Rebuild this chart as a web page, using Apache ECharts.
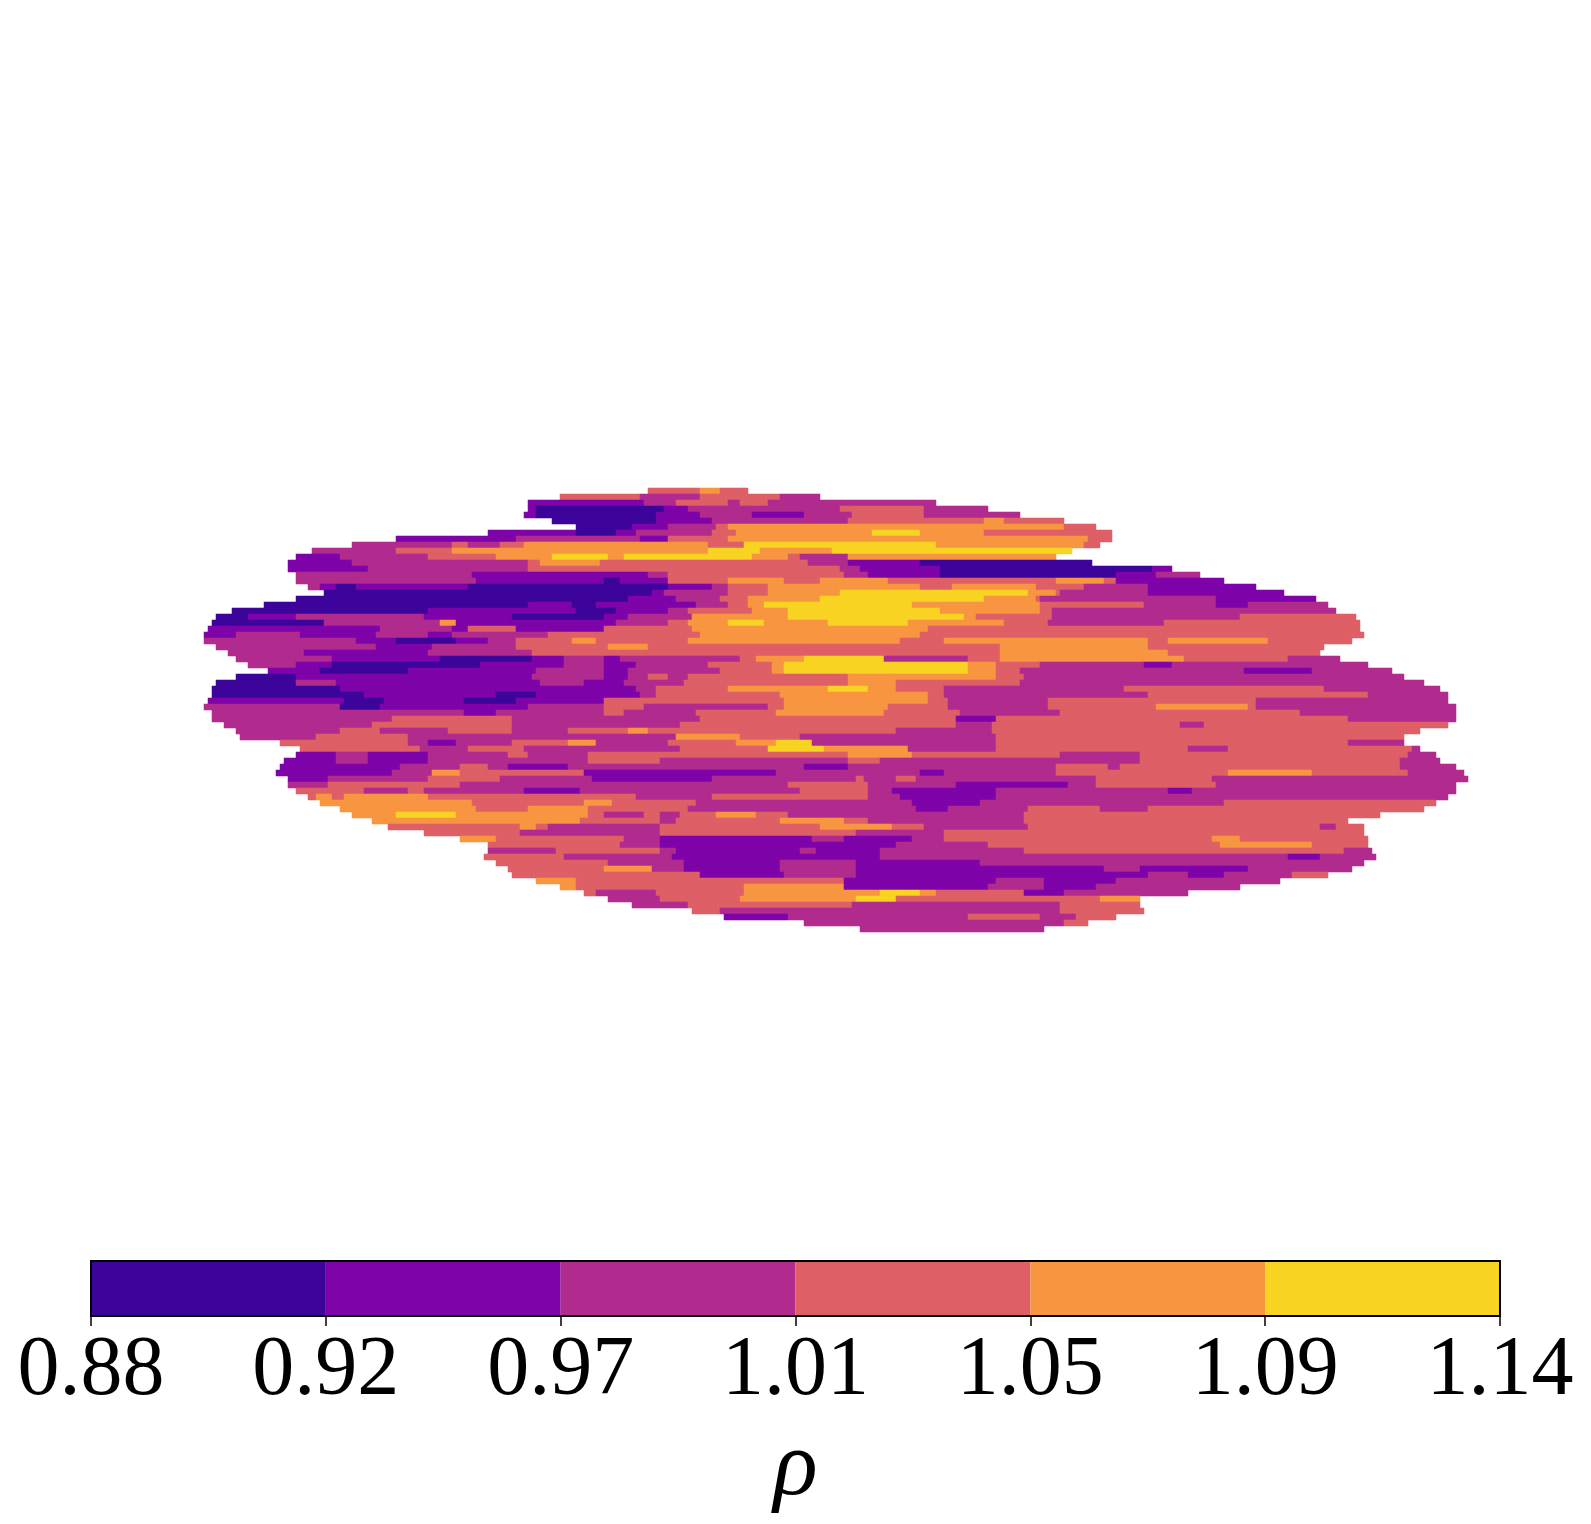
<!DOCTYPE html>
<html><head><meta charset="utf-8">
<style>html,body{margin:0;padding:0;background:#fff}#c{width:1591px;height:1524px}</style>
<script src="https://cdn.jsdelivr.net/npm/echarts@6/dist/echarts.min.js"></script>
</head><body><div id="c"></div>
<script>
const tickLabels = ['0.88','0.92','0.97','1.01','1.05','1.09','1.14'];
const levelEdges = [0.88,0.92,0.97,1.01,1.05,1.09,1.14];
const levelValues = [0.90,0.945,0.99,1.03,1.07,1.115];
const levelColors = ['#3c049b','#7e03a8','#b12b8f','#de5f65','#f89540','#f9d321'];
// each band: x-start level x-start level ... x-end, read row by row, top to bottom
const bands = [
"650 3 700 4 720 3 750",
"560 3 640 2 700 3 780 2 820",
"529 1 645 2 677 3 727 2 740 3 768 2 935",
"528 1 538 0 663 1 690 2 840 3 925 2 987",
"525 1 538 0 657 1 700 2 752 1 805 2 852 3 925 2 1020",
"552 0 655 1 713 2 850 3 985 4 1005 3 1065",
"578 0 632 1 670 2 715 3 728 4 1065 3 1095",
"488 1 578 0 617 1 635 2 712 3 735 4 873 5 920 4 983 3 1112",
"398 1 515 2 640 1 670 3 730 4 1088 3 1113",
"352 2 453 3 470 2 500 3 525 4 710 3 745 5 937 4 1085 3 1100",
"312 2 398 3 452 4 707 5 762 4 833 5 1072",
"295 1 340 2 430 3 495 4 553 5 607 4 623 5 753 4 790 3 800 2 850 4 1055",
"290 1 352 2 528 3 540 4 600 3 810 2 850 1 920 0 1093",
"288 1 370 2 528 3 840 2 860 1 940 0 1152 1 1173",
"298 2 472 1 647 2 670 3 843 2 870 1 940 0 1118 1 1155 2 1202",
"298 2 475 1 605 0 622 1 670 3 727 4 783 3 820 4 887 3 1055 4 1105 3 1117 1 1225",
"310 2 322 1 338 0 358 1 468 0 667 1 712 2 730 3 768 4 920 3 953 4 1037 3 1083 2 1147 1 1255",
"325 0 653 1 663 2 730 3 767 4 840 5 1030 4 1055 3 1062 2 1147 1 1285",
"298 0 630 1 677 2 720 3 750 4 820 5 985 4 1035 3 1040 2 1217 1 1315",
"265 0 528 1 573 0 597 1 697 2 730 3 750 4 763 5 913 4 1040 3 1143 2 1217 1 1247 2 1327",
"233 0 427 1 575 0 615 1 670 2 690 3 753 4 790 5 940 4 1040 3 1053 2 1337",
"215 0 248 1 295 2 425 1 512 0 605 1 630 2 692 4 790 5 963 4 975 3 1053 2 1240 3 1355",
"212 0 325 2 442 4 458 1 618 2 670 3 690 4 728 5 763 4 830 5 910 4 1003 3 1047 2 1165 3 1360",
"208 1 382 2 452 1 468 3 515 1 605 3 692 4 930 3 1359",
"205 1 238 2 302 1 378 2 428 1 452 2 548 3 700 4 920 3 1363",
"203 2 355 1 395 0 458 1 488 2 517 3 572 4 595 3 687 4 900 3 943 4 1150 3 1170 4 1270 3 1352",
"215 2 377 1 432 2 517 3 608 4 650 3 1000 4 1150 3 1323",
"228 2 305 1 428 2 532 3 625 3 1000 4 1167 3 1320",
"237 2 332 1 442 0 532 1 565 2 605 1 622 2 740 3 757 4 803 5 883 2 970 3 1000 4 1183 3 1290 2 1340",
"248 2 295 1 333 0 480 1 565 2 605 1 635 2 707 3 773 4 783 5 967 4 997 3 1040 2 1143 1 1173 2 1370",
"270 1 320 0 410 1 535 2 605 1 630 2 722 3 773 4 783 5 967 4 997 3 1020 2 1243 1 1312 2 1393",
"235 0 298 1 532 2 605 1 630 2 650 3 667 2 690 3 850 4 997 3 1023 2 1405",
"218 0 298 2 338 1 542 2 585 1 625 2 683 3 850 4 897 3 1020 2 1423",
"213 0 340 1 638 2 657 3 730 4 830 5 868 4 897 3 945 2 1125 3 1325 2 1442",
"211 0 365 1 497 0 538 1 640 2 657 3 780 4 930 3 945 2 1147 3 1367 2 1448",
"208 1 343 0 383 1 465 0 518 1 605 3 785 4 930 3 950 2 1050 3 1257 2 1450",
"205 2 342 0 382 1 530 2 605 3 643 2 770 3 783 4 887 3 950 2 1048 3 1157 4 1247 3 1257 2 1455",
"213 2 465 1 495 2 605 3 625 2 697 3 777 4 883 3 960 2 1060 3 1300 2 1457",
"212 2 393 3 513 2 700 3 957 1 998 3 1347 2 1457",
"225 2 372 3 513 2 680 3 957 2 992 3 1180 2 1203 3 1447",
"235 2 340 3 380 2 447 3 513 2 570 3 630 4 650 3 897 2 992 3 1422",
"240 2 317 3 410 2 677 4 740 3 800 2 997 3 1403",
"280 3 410 2 430 1 457 2 513 3 570 4 598 2 667 3 735 4 778 5 813 2 997 3 1350 2 1403",
"300 3 420 2 470 3 525 2 680 3 770 5 825 4 910 2 997 3 1188 2 1230 3 1412 2 1422",
"298 1 337 2 367 1 430 2 507 3 527 2 590 3 847 4 913 3 1060 2 1140 3 1407 2 1435",
"283 1 338 2 367 1 430 2 590 3 660 2 850 3 880 2 1140 3 1400 2 1442",
"280 1 400 2 460 3 487 2 510 1 567 2 803 1 850 2 1055 3 1110 2 1120 3 1400 2 1455",
"278 1 393 2 433 4 460 3 583 1 775 2 922 1 945 2 1055 3 1227 4 1313 3 1410 2 1463",
"287 1 330 2 427 3 500 2 593 1 713 2 857 3 865 2 897 3 915 2 1097 3 1213 2 1467",
"287 2 327 3 460 2 790 3 870 2 955 1 1070 2 1095 3 1217 2 1455",
"298 3 365 2 408 3 425 2 523 1 580 2 800 3 867 2 893 1 997 2 1167 1 1192 2 1455",
"308 3 317 4 333 3 345 4 427 3 637 2 713 3 867 2 900 1 997 2 1447",
"320 4 473 3 583 4 613 3 695 2 913 1 980 2 1223 3 1435",
"340 4 475 3 530 4 587 3 690 2 917 1 947 2 1027 3 1100 2 1150 3 1425",
"353 4 398 5 457 4 587 3 605 2 645 3 662 2 680 3 717 4 757 3 790 2 1023 3 1380",
"373 4 580 3 662 2 677 3 780 4 843 3 870 2 1023 3 1348",
"387 3 520 4 538 3 548 2 662 3 820 4 893 3 925 2 1030 3 1320 2 1337 3 1363",
"423 3 520 2 662 3 857 2 945 3 1365",
"460 4 497 3 623 2 660 1 813 2 843 1 913 2 945 3 1212 4 1240 3 1368",
"488 3 622 2 660 1 895 2 990 3 1220 4 1313 3 1370",
"487 2 557 3 660 2 677 1 800 2 817 1 880 2 1023 3 1343 2 1373",
"485 3 563 2 673 1 880 2 1290 1 1320 2 1375",
"497 3 610 2 683 1 780 2 857 1 980 2 1363",
"508 3 603 4 653 2 685 1 780 2 855 1 1105 2 1140 1 1250 2 1352",
"512 3 700 1 783 2 855 1 1150 2 1187 1 1223 2 1293 3 1327",
"537 4 577 3 843 1 997 2 1043 1 1117 2 1280",
"560 4 577 3 743 4 843 1 990 2 1043 1 1097 2 1240",
"585 3 597 2 657 3 743 4 880 5 920 4 935 3 1023 1 1063 2 1190",
"607 2 660 3 740 4 857 5 897 3 1100 4 1140",
"633 2 690 3 853 2 1060 3 1142",
"693 3 720 2 1060 3 1143",
"723 1 790 2 970 3 1040 2 1077 3 1115",
"803 2 1063 3 1090",
"860 2 1043"
];
const mapLeft = 200, cellW = 4, colCount = 320;
const xCats = Array.from({length: colCount}, (_, i) => mapLeft + i * cellW);
const yCats = bands.map((_, i) => i);
const cells = [];
bands.forEach((row, r) => {
  const t = row.split(' ').map(Number);
  for (let k = 0; k + 2 < t.length; k += 2) {
    for (let c = 0; c < colCount; c++) {
      const mid = xCats[c] + cellW / 2;
      if (mid >= t[k] && mid < t[k + 2]) cells.push([c, r, levelValues[t[k + 1]]]);
    }
  }
});
const pieces = levelColors.map((color, i) => ({min: levelEdges[i], max: levelEdges[i + 1], color}));
const barSeries = levelColors.map(color => ({
  type: 'bar', stack: 'cb', xAxisIndex: 1, yAxisIndex: 1, data: [1],
  barWidth: '100%', itemStyle: {color}, silent: true, animation: false
}));
const chart = echarts.init(document.getElementById('c'), null, {renderer: 'canvas'});
chart.setOption({
  animation: false,
  backgroundColor: '#fff',
  grid: [
    {left: mapLeft, top: 488, width: colCount * cellW, height: bands.length * 6, show: false, outerBoundsMode: 'none'},
    {left: 91, top: 1261, width: 1409, height: 55, show: true, borderColor: '#000', borderWidth: 2, backgroundColor: 'transparent', z: 5, outerBoundsMode: 'none'}
  ],
  xAxis: [
    {type: 'category', gridIndex: 0, data: xCats, show: false},
    {type: 'value', gridIndex: 1, min: 0, max: 6, interval: 1,
     axisLine: {show: false}, splitLine: {show: false},
     axisTick: {show: true, length: 10, lineStyle: {color: '#000', width: 1.5}},
     axisLabel: {show: true, color: '#000', fontFamily: 'Liberation Serif', fontSize: 84, margin: 14,
       showMinLabel: true, showMaxLabel: true, hideOverlap: false, formatter: v => tickLabels[v]},
     name: 'ρ', nameLocation: 'middle', nameGap: 108,
     nameTextStyle: {color: '#000', fontFamily: 'Liberation Serif', fontStyle: 'italic', fontSize: 92}}
  ],
  yAxis: [
    {type: 'category', gridIndex: 0, data: yCats, inverse: true, show: false},
    {type: 'category', gridIndex: 1, data: ['ρ'], show: false}
  ],
  visualMap: {show: false, type: 'piecewise', seriesIndex: 0, pieces},
  series: [{type: 'heatmap', xAxisIndex: 0, yAxisIndex: 0, data: cells, progressive: 0, silent: true,
            itemStyle: {borderWidth: 0}, emphasis: {disabled: true}}].concat(barSeries)
});
</script></body></html>
